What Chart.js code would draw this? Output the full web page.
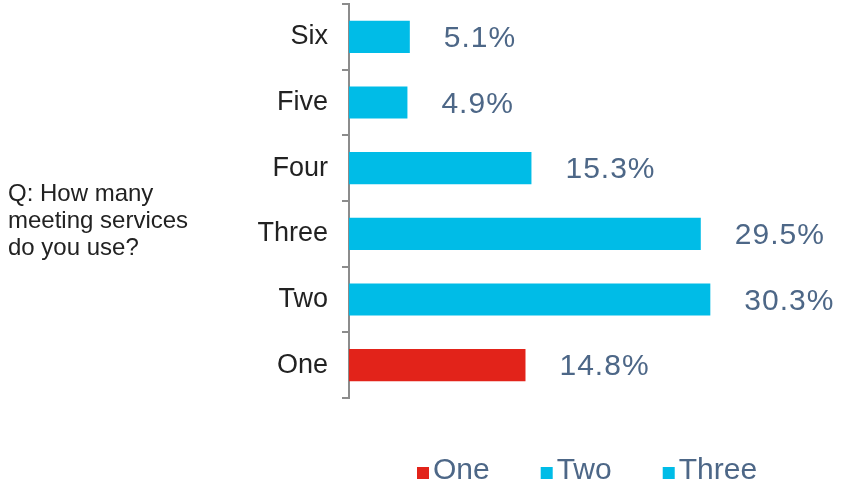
<!DOCTYPE html>
<html>
<head>
<meta charset="utf-8">
<script src="https://cdn.jsdelivr.net/npm/chart.js@4/dist/chart.umd.min.js"></script>
<style>
  html, body { margin: 0; padding: 0; background: #fff; }
  #wrap { position: relative; width: 846px; height: 481px; }
</style>
</head>
<body>
<div id="wrap"><canvas id="servicesChart"></canvas></div>
<script>
// Chart data
const categories = ['Six', 'Five', 'Four', 'Three', 'Two', 'One'];
const shares = [5.1, 4.9, 15.3, 29.5, 30.3, 14.8];
const legendLabels = ['One', 'Two', 'Three'];
const question = ['Q: How many', 'meeting services', 'do you use?'];

const CYAN = '#00bce7';
const RED = '#e2231a';
const SLATE = '#4d6787';
const AXIS = '#8c8c8c';

const barColors = categories.map(c => c === 'One' ? RED : CYAN);
const legendColors = [RED, CYAN, CYAN];

// Value labels to the right of each bar
const valueLabels = {
    id: 'valueLabels',
    afterDatasetsDraw(chart) {
        const ctx = chart.ctx;
        const meta = chart.getDatasetMeta(0);
        ctx.save();
        ctx.font = '30px "Liberation Sans", Arial, sans-serif';
        ctx.letterSpacing = '1px';
        ctx.fillStyle = SLATE;
        ctx.textBaseline = 'middle';
        meta.data.forEach((bar, i) => {
            ctx.fillText(shares[i].toFixed(1) + '%', bar.x + 34, bar.y + 2);
        });
        ctx.restore();
    }
};

// Question text on the left and the legend at the bottom
const extras = {
    id: 'extras',
    afterDraw(chart) {
        const ctx = chart.ctx;
        ctx.save();
        ctx.font = '24px "Liberation Sans", Arial, sans-serif';
        ctx.fillStyle = '#222';
        ctx.textBaseline = 'alphabetic';
        question.forEach((line, i) => ctx.fillText(line, 8, 201 + i * 27));

        ctx.font = '30px "Liberation Sans", Arial, sans-serif';
        let x = 417;
        legendLabels.forEach((label, i) => {
            ctx.fillStyle = legendColors[i];
            ctx.fillRect(x, 467, 12, 12);
            ctx.fillStyle = SLATE;
            ctx.fillText(label, x + 16, 479);
            x += 16 + ctx.measureText(label).width + 51;
        });
        ctx.restore();
    }
};

new Chart(document.getElementById('servicesChart'), {
    type: 'bar',
    data: {
        labels: categories,
        datasets: [{
            data: shares,
            backgroundColor: barColors,
            borderWidth: 0,
            categoryPercentage: 1,
            barPercentage: 0.49
        }]
    },
    options: {
        indexAxis: 'y',
        responsive: true,
        maintainAspectRatio: false,
        animation: false,
        layout: {
            padding: { left: 0, right: 20, top: 4, bottom: 83 }
        },
        plugins: {
            legend: { display: false },
            tooltip: { enabled: false }
        },
        scales: {
            x: {
                display: false,
                min: 0,
                max: 40
            },
            y: {
                afterFit(scale) {
                    scale.width = 349;
                    scale.paddingTop = 0;
                    scale.paddingBottom = 0;
                },
                grid: {
                    offset: true,
                    drawOnChartArea: false,
                    drawTicks: true,
                    tickLength: 7,
                    color: AXIS,
                    lineWidth: 2
                },
                border: { color: AXIS, width: 2 },
                ticks: {
                    padding: 14,
                    color: '#222',
                    font: { family: '"Liberation Sans", Arial, sans-serif', size: 27 }
                }
            }
        }
    },
    plugins: [valueLabels, extras]
});
</script>
</body>
</html>
